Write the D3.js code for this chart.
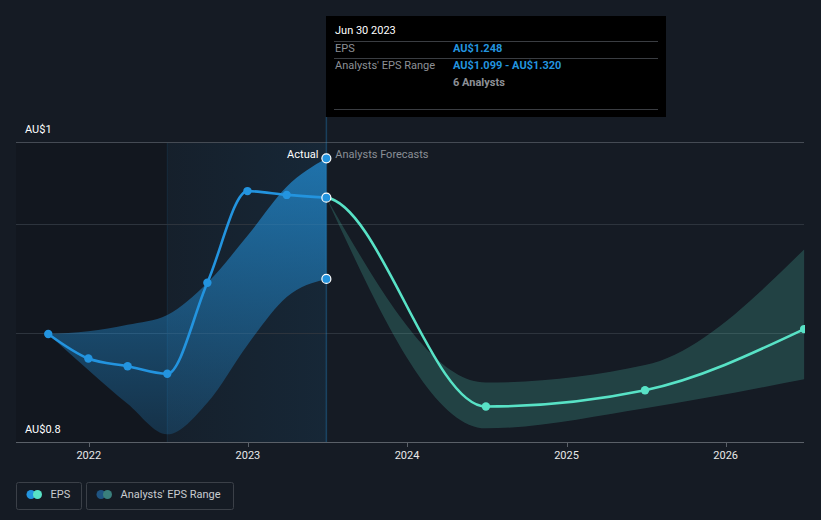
<!DOCTYPE html>
<html>
<head>
<meta charset="utf-8">
<script src="https://cdn.jsdelivr.net/npm/d3@7"></script>
<style>
  html, body { margin: 0; padding: 0; background: #151b24; }
  svg { display: block; font-family: Roboto, "Noto Sans", sans-serif; }
</style>
</head>
<body>
<svg id="chart" width="821" height="520"></svg>
<script>
// ---------- data ----------
const histDates = ["2021-09-30","2021-12-31","2022-03-31","2022-06-30","2022-09-30","2022-12-31","2023-03-31","2023-06-30"];
const histEps   = [0.998, 0.953, 0.939, 0.925, 1.092, 1.260, 1.253, 1.248];
const histLow   = [0.998, 0.932, 0.870, 0.814, 0.872, 0.978, 1.066, 1.099];
const histHigh  = [0.998, 1.003, 1.015, 1.033, 1.092, 1.178, 1.268, 1.320];

const fcDates = ["2023-06-30","2024-06-30","2025-06-30","2026-06-30"];
const fcEps   = [1.248, 0.865, 0.895, 1.007];
const fcLow   = [1.248, 0.825, 0.862, 0.915];
const fcHigh  = [1.248, 0.909, 0.941, 1.153];

const xTickYears = [2022, 2023, 2024, 2025, 2026];
const yGridValues = [0.8, 1.0, 1.2];
const yLabels = [{v: 1.35, t: "AU$1"}, {v: 0.8, t: "AU$0.8"}];
const analystsCount = 6;
const tooltipDate = "Jun 30 2023";
const legendItems = ["EPS", "Analysts' EPS Range"];

// ---------- setup ----------
const plot = {left: 16, right: 805, top: 142, bottom: 442};
const parse = d3.timeParse("%Y-%m-%d");
const svg = d3.select("#chart");

const x = d3.scaleTime()
  .domain([parse("2021-07-18"), parse("2026-07-02")])
  .range([plot.left, plot.right]);
const y = d3.scaleLinear().domain([0.8, 1.35]).range([plot.bottom, plot.top]);

const hist = histDates.map((d, i) => ({date: parse(d), eps: histEps[i], lo: histLow[i], hi: histHigh[i]}));
const fc = fcDates.map((d, i) => ({date: parse(d), eps: fcEps[i], lo: fcLow[i], hi: fcHigh[i]}));
const nowDate = hist[hist.length - 1].date;
const yearAgo = hist[3].date;

const BLUE = "#2394df", TEAL = "#58e2c6";

const defs = svg.append("defs");
defs.append("clipPath").attr("id", "plotClip").append("rect")
  .attr("x", plot.left).attr("y", plot.top - 10)
  .attr("width", plot.right - plot.left).attr("height", plot.bottom - plot.top + 10);
defs.append("clipPath").attr("id", "fcClip").append("rect")
  .attr("x", x(nowDate)).attr("y", plot.top - 10)
  .attr("width", plot.right - x(nowDate)).attr("height", plot.bottom - plot.top + 20);

const gradB = defs.append("linearGradient").attr("id", "bandBlue")
  .attr("gradientUnits", "userSpaceOnUse")
  .attr("x1", 0).attr("x2", 0).attr("y1", plot.top).attr("y2", plot.bottom);
gradB.append("stop").attr("offset", "0%").attr("stop-color", BLUE).attr("stop-opacity", 0.72);
gradB.append("stop").attr("offset", "100%").attr("stop-color", BLUE).attr("stop-opacity", 0.2);

const gradH = defs.append("linearGradient").attr("id", "hl")
  .attr("x1", 0).attr("x2", 1).attr("y1", 0).attr("y2", 0);
gradH.append("stop").attr("offset", "0%").attr("stop-color", BLUE).attr("stop-opacity", 0.04);
gradH.append("stop").attr("offset", "100%").attr("stop-color", BLUE).attr("stop-opacity", 0.1);

// ---------- background regions ----------
svg.append("rect").attr("x", plot.left).attr("y", plot.top)
  .attr("width", x(yearAgo) - plot.left).attr("height", plot.bottom - plot.top)
  .attr("fill", "#000").attr("fill-opacity", 0.13);
svg.append("rect").attr("x", x(yearAgo)).attr("y", plot.top)
  .attr("width", x(nowDate) - x(yearAgo)).attr("height", plot.bottom - plot.top)
  .attr("fill", "url(#hl)");
svg.append("line").attr("x1", x(yearAgo)).attr("x2", x(yearAgo))
  .attr("y1", plot.top).attr("y2", plot.bottom)
  .attr("stroke", BLUE).attr("stroke-opacity", 0.12);

// ---------- grid ----------
svg.append("g").selectAll("line").data(yGridValues.filter(v => v !== 0.8)).join("line")
  .attr("x1", plot.left).attr("x2", plot.right - 1)
  .attr("y1", d => Math.round(y(d)) + 0.5).attr("y2", d => Math.round(y(d)) + 0.5)
  .attr("stroke", "#2d343d").attr("stroke-width", 1);
svg.append("line").attr("x1", plot.left).attr("x2", plot.right - 1)
  .attr("y1", plot.top + 0.5).attr("y2", plot.top + 0.5)
  .attr("stroke", "#454b54");

// ---------- bands ----------
const area = d3.area().x(d => x(d.date)).y0(d => y(d.lo)).y1(d => y(d.hi)).curve(d3.curveMonotoneX);
const gPlot = svg.append("g").attr("clip-path", "url(#plotClip)");
gPlot.append("path").datum(hist).attr("d", area).attr("fill", "url(#bandBlue)");
gPlot.append("path").datum(fc).attr("d", area).attr("fill", TEAL).attr("fill-opacity", 0.2);

// vertical hover line
svg.append("line").attr("x1", x(nowDate)).attr("x2", x(nowDate))
  .attr("y1", 117).attr("y2", plot.bottom)
  .attr("stroke", BLUE).attr("stroke-opacity", 0.3).attr("stroke-width", 1.5);

// ---------- lines ----------
const line = d3.line().x(d => x(d.date)).y(d => y(d.eps)).curve(d3.curveMonotoneX);
gPlot.append("path").datum(hist).attr("d", line)
  .attr("fill", "none").attr("stroke", BLUE).attr("stroke-width", 2.6);
const fcLine = [hist[hist.length - 2]].concat(fc);
gPlot.append("g").attr("clip-path", "url(#fcClip)").append("path").datum(fcLine).attr("d", line)
  .attr("fill", "none").attr("stroke", TEAL).attr("stroke-width", 2.6);

// ---------- points ----------
gPlot.append("g").selectAll("circle").data(hist.slice(0, -1)).join("circle")
  .attr("cx", d => x(d.date)).attr("cy", d => y(d.eps)).attr("r", 4.2).attr("fill", BLUE);
gPlot.append("g").selectAll("circle").data(fc.slice(1)).join("circle")
  .attr("cx", d => x(d.date)).attr("cy", d => y(d.eps)).attr("r", 4.2).attr("fill", TEAL);
const last = hist[hist.length - 1];
svg.append("g").selectAll("circle").data([last.hi, last.eps, last.lo]).join("circle")
  .attr("cx", x(last.date)).attr("cy", d => y(d)).attr("r", 4.5)
  .attr("fill", BLUE).attr("stroke", "#fff").attr("stroke-width", 1.2);

// ---------- Actual / Forecast labels ----------
svg.append("text").attr("x", x(nowDate) - 8).attr("y", y(last.hi) - 3)
  .attr("text-anchor", "end").attr("dominant-baseline", "middle")
  .attr("fill", "#fff").attr("font-size", 11).text("Actual");
svg.append("text").attr("x", x(nowDate) + 9).attr("y", y(last.hi) - 3)
  .attr("dominant-baseline", "middle")
  .attr("fill", "#8a8f96").attr("font-size", 11).text("Analysts Forecasts");

// ---------- y labels ----------
svg.append("g").selectAll("text").data(yLabels).join("text")
  .attr("x", 25).attr("y", d => y(d.v) - 12)
  .attr("dominant-baseline", "middle")
  .attr("fill", "#fff").attr("font-size", 11).text(d => d.t);

// ---------- x axis ----------
svg.append("line").attr("x1", plot.left).attr("x2", plot.right - 1)
  .attr("y1", plot.bottom + 0.5).attr("y2", plot.bottom + 0.5).attr("stroke", "#5a6068");
const xTicks = xTickYears.map(yv => new Date(yv, 0, 1));
svg.append("g").selectAll("line").data(xTicks).join("line")
  .attr("x1", d => Math.round(x(d)) + 0.5).attr("x2", d => Math.round(x(d)) + 0.5)
  .attr("y1", plot.bottom).attr("y2", plot.bottom + 5).attr("stroke", "#5a6068");
svg.append("g").selectAll("text").data(xTicks).join("text")
  .attr("x", d => x(d)).attr("y", 456).attr("text-anchor", "middle")
  .attr("dominant-baseline", "middle").attr("fill", "#e8e8e8").attr("font-size", 11)
  .text(d => d3.timeFormat("%Y")(d));

// ---------- tooltip ----------
const fmt = v => "AU$" + d3.format(".3f")(v);
const tt = svg.append("g");
tt.append("rect").attr("x", 326).attr("y", 16).attr("width", 340).attr("height", 101).attr("fill", "#000");
tt.append("text").attr("x", 335).attr("y", 31).attr("dominant-baseline", "middle")
  .attr("fill", "#fff").attr("font-size", 11).text(tooltipDate);
[41.5, 58.5, 109.5].forEach(yy => tt.append("line").attr("x1", 334).attr("x2", 658)
  .attr("y1", yy).attr("y2", yy).attr("stroke", "#3a3d42"));
tt.append("text").attr("x", 335).attr("y", 49).attr("dominant-baseline", "middle")
  .attr("fill", "#8d9096").attr("font-size", 11).text("EPS");
tt.append("text").attr("x", 453).attr("y", 49).attr("dominant-baseline", "middle")
  .attr("fill", BLUE).attr("font-size", 11).attr("font-weight", "bold").text(fmt(last.eps));
tt.append("text").attr("x", 335).attr("y", 66.5).attr("dominant-baseline", "middle")
  .attr("fill", "#8d9096").attr("font-size", 11).text("Analysts' EPS Range");
tt.append("text").attr("x", 453).attr("y", 66.5).attr("dominant-baseline", "middle")
  .attr("fill", BLUE).attr("font-size", 11).attr("font-weight", "bold").text(fmt(last.lo) + " - " + fmt(last.hi));
tt.append("text").attr("x", 453).attr("y", 83.5).attr("dominant-baseline", "middle")
  .attr("fill", "#8d9096").attr("font-size", 11).attr("font-weight", "bold").text(analystsCount + " Analysts");

// ---------- legend ----------
const lg = svg.append("g");
const boxes = [{x: 16.5, w: 65, c1: BLUE, c2: TEAL}, {x: 86.5, w: 147, c1: "#1f5482", c2: "#3a7f7c"}];
boxes.forEach((b, i) => {
  lg.append("rect").attr("x", b.x).attr("y", 482.5).attr("width", b.w).attr("height", 27)
    .attr("rx", 2).attr("fill", "none").attr("stroke", "#3b4048");
  lg.append("circle").attr("cx", b.x + 14.5).attr("cy", 494.5).attr("r", 4.5).attr("fill", b.c1);
  lg.append("circle").attr("cx", b.x + 21).attr("cy", 494.5).attr("r", 4.5).attr("fill", b.c2);
  lg.append("text").attr("x", b.x + 34).attr("y", 495).attr("dominant-baseline", "middle")
    .attr("fill", "#c9ccd0").attr("font-size", 11).text(legendItems[i]);
});
</script>
</body>
</html>
